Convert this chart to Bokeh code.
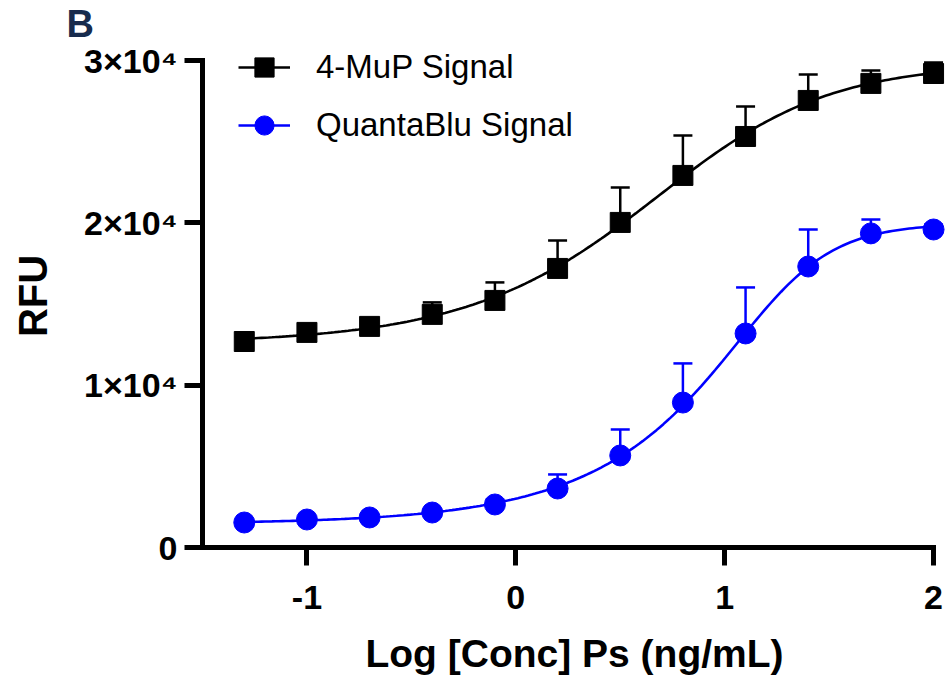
import numpy as np
from bokeh.plotting import figure
from bokeh.models import (ColumnDataSource, Whisker, TeeHead, FixedTicker, Legend,
                          LegendItem, Range1d)
from bokeh.embed import file_html
from bokeh.resources import INLINE

# ---------------- data ----------------
log_conc = [-1.3, -1.0, -0.7, -0.4, -0.1, 0.2, 0.5, 0.8, 1.1, 1.4, 1.7, 2.0]

mup_mean = [12690, 13250, 13620, 14360, 15220, 17190, 20025, 22920, 25320, 27540, 28590, 29200]
mup_sd   = [300, 250, 350, 740, 1110, 1725, 2155, 2465, 1850, 1600, 800, 680]

qb_mean  = [1540, 1725, 1850, 2155, 2650, 3635, 5670, 8930, 13185, 17310, 19350, 19590]
qb_sd    = [150, 150, 150, 200, 300, 865, 1600, 2410, 2835, 2280, 860, 300]

x_ticks = [-1, 0, 1, 2]
y_ticks = [0, 10000, 20000, 30000]
y_tick_labels = ["0", "1×10⁴", "2×10⁴", "3×10⁴"]
series_names = ["4-MuP Signal", "QuantaBlu Signal"]
panel_letter = "B"


# ------------- dose-response fit of each series (least squares) -------------
def fit_curve(x, y, n=200):
    x = np.asarray(x, float)
    y = np.asarray(y, float)
    c = np.linspace(-0.5, 2.5, 121)[:, None, None, None]
    h = np.linspace(0.5, 3.0, 51)[None, :, None, None]
    s = np.linspace(0.3, 2.5, 45)[None, None, :, None]
    X = x[None, None, None, :]
    f = (1.0 + 10.0 ** ((c - X) * h)) ** (-s)
    fm = f.mean(-1, keepdims=True)
    ym = y.mean()
    A = ((f - fm) * (y - ym)).sum(-1, keepdims=True) / ((f - fm) ** 2).sum(-1, keepdims=True)
    B = ym - A * fm
    r = ((y - B - A * f) ** 2).sum(-1)
    i, j, k = np.unravel_index(np.argmin(r), r.shape)
    cc, hh, ss = c[i, 0, 0, 0], h[0, j, 0, 0], s[0, 0, k, 0]
    AA, BB = A[i, j, k, 0], B[i, j, k, 0]
    xs = np.linspace(x.min(), x.max(), n)
    ys = BB + AA * (1.0 + 10.0 ** ((cc - xs) * hh)) ** (-ss)
    return xs, ys


mup_cx, mup_cy = fit_curve(log_conc, mup_mean)
qb_cx, qb_cy = fit_curve(log_conc, qb_mean)

BLACK = "#000000"
BLUE = "#0000ff"
FONT = "Liberation Sans"

p = figure(frame_width=744, frame_height=503, title=panel_letter,
           x_range=Range1d(-1.5, 2.062), y_range=Range1d(0, 30986),
           output_backend="svg", toolbar_location=None,
           min_border_left=202, min_border_right=0,
           min_border_top=44, min_border_bottom=100)
p.outline_line_color = None
p.grid.visible = False
p.background_fill_color = "white"
p.border_fill_color = "white"

p.title.align = "left"
p.title.offset = -136
p.title.standoff = 0
p.title.text_font = FONT
p.title.text_font_style = "bold"
p.title.text_font_size = "38px"
p.title.text_color = "#172b4d"

src_m = ColumnDataSource(dict(x=log_conc, y=mup_mean,
                              upper=[m + e for m, e in zip(mup_mean, mup_sd)]))
src_q = ColumnDataSource(dict(x=log_conc, y=qb_mean,
                              upper=[m + e for m, e in zip(qb_mean, qb_sd)]))

# error bars (upward only)
for src, col in ((src_m, BLACK), (src_q, BLUE)):
    w = Whisker(source=src, base="x", lower="y", upper="upper", dimension="height",
                line_color=col, line_width=2.5,
                upper_head=TeeHead(size=19, line_color=col, line_width=2.5),
                lower_head=None, level="underlay")
    p.add_layout(w)

# fitted curves
l_m = p.line(mup_cx, mup_cy, line_color=BLACK, line_width=2.6)
l_q = p.line(qb_cx, qb_cy, line_color=BLUE, line_width=2.6)

# points
s_m = p.scatter("x", "y", source=src_m, marker="square", size=20,
                fill_color=BLACK, line_color=BLACK)
s_q = p.scatter("x", "y", source=src_q, marker="circle", size=21,
                fill_color=BLUE, line_color=BLUE)

# axes
for ax in (p.xaxis[0], p.yaxis[0]):
    ax.axis_line_width = 5
    ax.axis_line_cap = "square"
    ax.axis_line_color = BLACK
    ax.major_tick_line_width = 5
    ax.major_tick_line_color = BLACK
    ax.major_tick_out = 18
    ax.major_tick_in = 0
    ax.minor_tick_line_color = None
    ax.major_label_text_font = FONT
    ax.major_label_text_font_style = "bold"
    ax.major_label_text_font_size = "34px"
    ax.major_label_text_color = BLACK
    ax.axis_label_text_font = FONT
    ax.axis_label_text_font_style = "bold"
    ax.axis_label_text_color = BLACK

xa = p.xaxis[0]
xa.bounds = (-1.5, 2.0)
xa.ticker = FixedTicker(ticks=x_ticks)
xa.major_label_overrides = {t: str(t) for t in x_ticks}
xa.major_label_standoff = 20
xa.axis_label = "Log [Conc] Ps (ng/mL)"
xa.axis_label_text_font_size = "39px"
xa.axis_label_standoff = 20

ya = p.yaxis[0]
ya.bounds = (0, 30000)
ya.ticker = FixedTicker(ticks=y_ticks)
ya.major_label_overrides = dict(zip(y_ticks, y_tick_labels))
ya.major_label_standoff = 7
ya.axis_label = "RFU"
ya.axis_label_text_font_size = "40px"
ya.axis_label_standoff = 26

# legend
legend = Legend(items=[LegendItem(label=series_names[0], renderers=[l_m, s_m]),
                       LegendItem(label=series_names[1], renderers=[l_q, s_q])],
                location=(36, 398))
legend.background_fill_alpha = 0
legend.border_line_color = None
legend.padding = 0
legend.margin = 0
legend.spacing = 10
legend.glyph_height = 48
legend.glyph_width = 52
legend.label_height = 48
legend.label_standoff = 26
legend.label_text_font = FONT
legend.label_text_font_size = "33px"
legend.label_text_color = BLACK
p.add_layout(legend)

open("out.html", "w").write(file_html(p, INLINE))
